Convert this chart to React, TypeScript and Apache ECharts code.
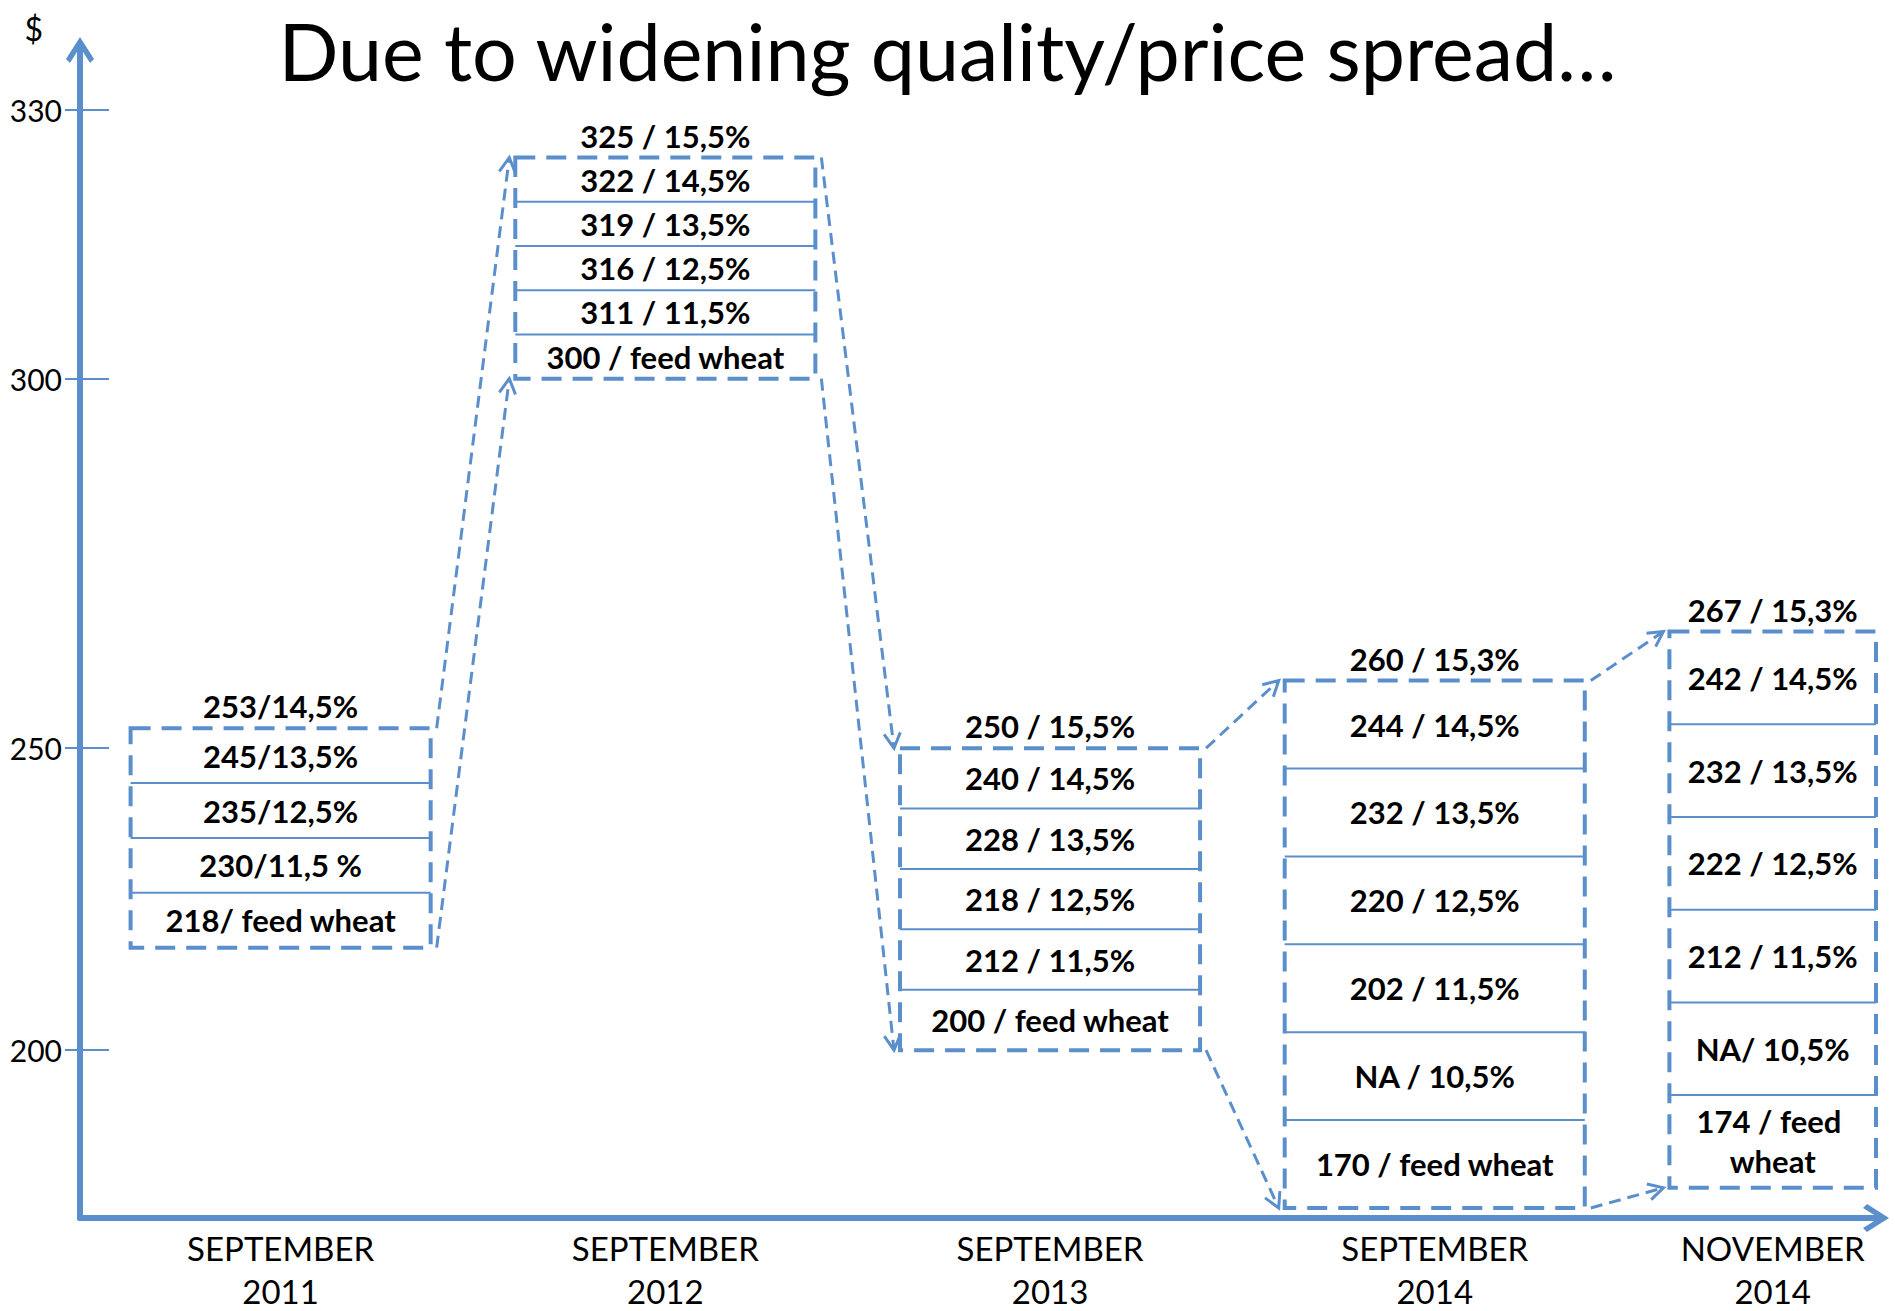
import { useEffect, useRef } from 'react';
import * as echarts from 'echarts';

// ---------- data ----------
const TITLE = 'Due to widening quality/price spread…';
const PERIODS = ['SEPTEMBER\n2011', 'SEPTEMBER\n2012', 'SEPTEMBER\n2013', 'SEPTEMBER\n2014', 'NOVEMBER\n2014'];
const TOP_PRICES = [253, 325, 250, 260, 267];
const FEED_PRICES = [218, 300, 200, 170, 174];
const TOP_LABELS = ['253/14,5%', '325 / 15,5%', '250 / 15,5%', '260 / 15,3%', '267 / 15,3%'];
const ROWS_SEP_2011 = ['245/13,5%', '235/12,5%', '230/11,5 %', '218/ feed wheat'];
const ROWS_SEP_2012 = ['322 / 14,5%', '319 / 13,5%', '316 / 12,5%', '311 / 11,5%', '300 / feed wheat'];
const ROWS_SEP_2013 = ['240 / 14,5%', '228 / 13,5%', '218 / 12,5%', '212 / 11,5%', '200 / feed wheat'];
const ROWS_SEP_2014 = ['244 / 14,5%', '232 / 13,5%', '220 / 12,5%', '202 / 11,5%', 'NA / 10,5%', '170 / feed wheat'];
const ROWS_NOV_2014 = ['242 / 14,5%', '232 / 13,5%', '222 / 12,5%', '212 / 11,5%', 'NA/ 10,5%', '174 / feed wheat'];
const Y_TICKS = [200, 250, 300, 330];
const Y_UNIT = '$';

// ---------- layout / style ----------
const ROWS = [ROWS_SEP_2011, ROWS_SEP_2012, ROWS_SEP_2013, ROWS_SEP_2014, ROWS_NOV_2014];
const BLUE = '#5B8FCB';
const FONT = 'Lato';
const BOX_HALF = 0.39;
const X_MIN = -0.5215;
const X_MAX = 4.147;
const Y_MIN = 168;
const Y_MAX = 336;
// The drawn price axis is stretched towards the top: prices are shown on an
// inverted log scale of (Y_REF - price), with the tick labels giving the price.
const Y_REF = 500;
const toAxis = (price: number) => Y_REF - price;
const CHEVRON = 'path://M14,0 L28,22 L24,26 L14,10 L4,26 L0,22 Z';

const LAST = PERIODS.length - 1;
const LABEL_POS = PERIODS.map((_, i) => (i === LAST ? (i - BOX_HALF + X_MAX) / 2 : i));

function arrow(x1: number, y1: number, x2: number, y2: number) {
  const ang = Math.atan2(y2 - y1, x2 - x1);
  const L = 17;
  const sp = 0.5;
  const p1 = [x2 - L * Math.cos(ang - sp), y2 - L * Math.sin(ang - sp)];
  const p2 = [x2 - L * Math.cos(ang + sp), y2 - L * Math.sin(ang + sp)];
  return [
    {
      type: 'line',
      shape: { x1, y1, x2, y2 },
      style: { stroke: BLUE, lineWidth: 3, lineDash: [12, 7], fill: 'none' },
    },
    {
      type: 'polyline',
      shape: { points: [p1, [x2, y2], p2] },
      style: { stroke: BLUE, lineWidth: 3, fill: 'none' },
    },
  ];
}

function renderBox(params: any, api: any) {
  const i = api.value(0) as number;
  const cs = params.coordSys;
  const plotRight = cs.x + cs.width;
  const boxPx = (k: number, yTop: number, yBot: number) => {
    const a = api.coord([k - BOX_HALF, yTop]);
    const b = api.coord([k + BOX_HALF, yBot]);
    return { left: a[0], right: Math.min(b[0], plotRight), top: a[1], bottom: b[1] };
  };
  const b = boxPx(i, api.value(1), api.value(2));
  const w = b.right - b.left;
  const cx = (b.left + b.right) / 2;
  const children: any[] = [];

  const textStyle = (text: string) => ({
    text,
    fill: '#000',
    fontFamily: FONT,
    fontSize: 31,
    fontWeight: 'bold',
    align: 'center',
    width: w - 14,
    overflow: 'break',
    lineHeight: 40,
  });

  // arrows to next period
  if (i < LAST) {
    const n = boxPx(i + 1, toAxis(TOP_PRICES[i + 1]), toAxis(FEED_PRICES[i + 1]));
    children.push(...arrow(b.right + 6, b.top, n.left - 6, n.top));
    children.push(...arrow(b.right + 6, b.bottom, n.left - 6, n.bottom));
  }

  // box
  children.push({
    type: 'rect',
    shape: { x: b.left, y: b.top, width: w, height: b.bottom - b.top },
    style: { fill: 'none', stroke: BLUE, lineWidth: 4, lineDash: [20, 11] },
  });

  // rows
  const rows = ROWS[i];
  const h = (b.bottom - b.top) / rows.length;
  rows.forEach((label, k) => {
    if (k > 0) {
      const y = b.top + k * h;
      children.push({
        type: 'line',
        shape: { x1: b.left, y1: y, x2: b.right, y2: y },
        style: { stroke: BLUE, lineWidth: 2, fill: 'none' },
      });
    }
    children.push({
      type: 'text',
      x: cx,
      y: b.top + (k + 0.5) * h,
      style: { ...textStyle(label), verticalAlign: 'middle' },
    });
  });

  // top label (highest price)
  children.push({
    type: 'text',
    x: cx,
    y: b.top - 4,
    style: { ...textStyle(TOP_LABELS[i]), width: 400, lineHeight: 36, verticalAlign: 'bottom' },
  });

  return { type: 'group', children };
}

export default function App() {
  const ref = useRef<HTMLDivElement>(null);
  useEffect(() => {
    const chart = echarts.init(ref.current!, null, { renderer: 'svg' });
    const yBase = {
      type: 'log',
      logBase: 10,
      inverse: true,
      position: 'left',
      min: toAxis(Y_MAX),
      max: toAxis(Y_MIN),
      splitLine: { show: false },
    };
    chart.setOption({
      animation: false,
      backgroundColor: '#fff',
      title: {
        text: TITLE,
        left: 'center',
        top: 6,
        textStyle: { fontFamily: FONT, fontSize: 79, fontWeight: 'normal', color: '#000' },
      },
      grid: { left: 80, right: 19, top: 50, bottom: 93, containLabel: false, outerBoundsMode: 'none' },
      xAxis: {
        type: 'value',
        min: X_MIN,
        max: X_MAX,
        splitLine: { show: false },
        axisTick: { show: false },
        axisLine: {
          onZero: false,
          lineStyle: { color: BLUE, width: 6 },
          symbol: ['none', CHEVRON],
          symbolSize: [28, 26],
        },
        axisLabel: {
          customValues: LABEL_POS,
          formatter: (v: number) => {
            const k = LABEL_POS.findIndex((p) => Math.abs(p - v) < 1e-6);
            return k >= 0 ? PERIODS[k] : '';
          },
          fontFamily: FONT,
          fontSize: 33,
          color: '#000',
          lineHeight: 43,
          margin: 8,
          hideOverlap: false,
        },
      },
      yAxis: [
        {
          ...yBase,
          name: Y_UNIT,
          nameLocation: 'start',
          nameGap: 6,
          nameTextStyle: { fontFamily: FONT, fontSize: 32, color: '#000', align: 'right', padding: [0, 37, 0, 0] },
          axisLine: {
            show: true,
            onZero: false,
            lineStyle: { color: BLUE, width: 6 },
            symbol: ['none', CHEVRON],
            symbolSize: [28, 26],
          },
          axisTick: { show: true, customValues: Y_TICKS.map(toAxis), length: 15, lineStyle: { color: BLUE, width: 2 } },
          axisLabel: {
            customValues: Y_TICKS.map(toAxis),
            formatter: (u: number) => String(Math.round(Y_REF - u)),
            fontFamily: FONT,
            fontSize: 30,
            color: '#000',
            margin: 18,
          },
        },
        {
          ...yBase,
          axisLine: { show: false, onZero: false },
          axisTick: {
            show: true,
            inside: true,
            customValues: Y_TICKS.map(toAxis),
            length: 29,
            lineStyle: { color: BLUE, width: 2 },
          },
          axisLabel: { show: false },
        },
      ],
      series: [
        {
          type: 'custom',
          xAxisIndex: 0,
          yAxisIndex: 0,
          clip: false,
          encode: { x: 0, y: [1, 2] },
          data: PERIODS.map((_, i) => [i, toAxis(TOP_PRICES[i]), toAxis(FEED_PRICES[i])]),
          renderItem: renderBox,
        },
      ],
    });
    return () => chart.dispose();
  }, []);
  return (
    <div
      ref={ref}
      style={{ position: 'fixed', left: 0, top: 0, width: 1895, height: 1311, background: '#fff' }}
    />
  );
}
